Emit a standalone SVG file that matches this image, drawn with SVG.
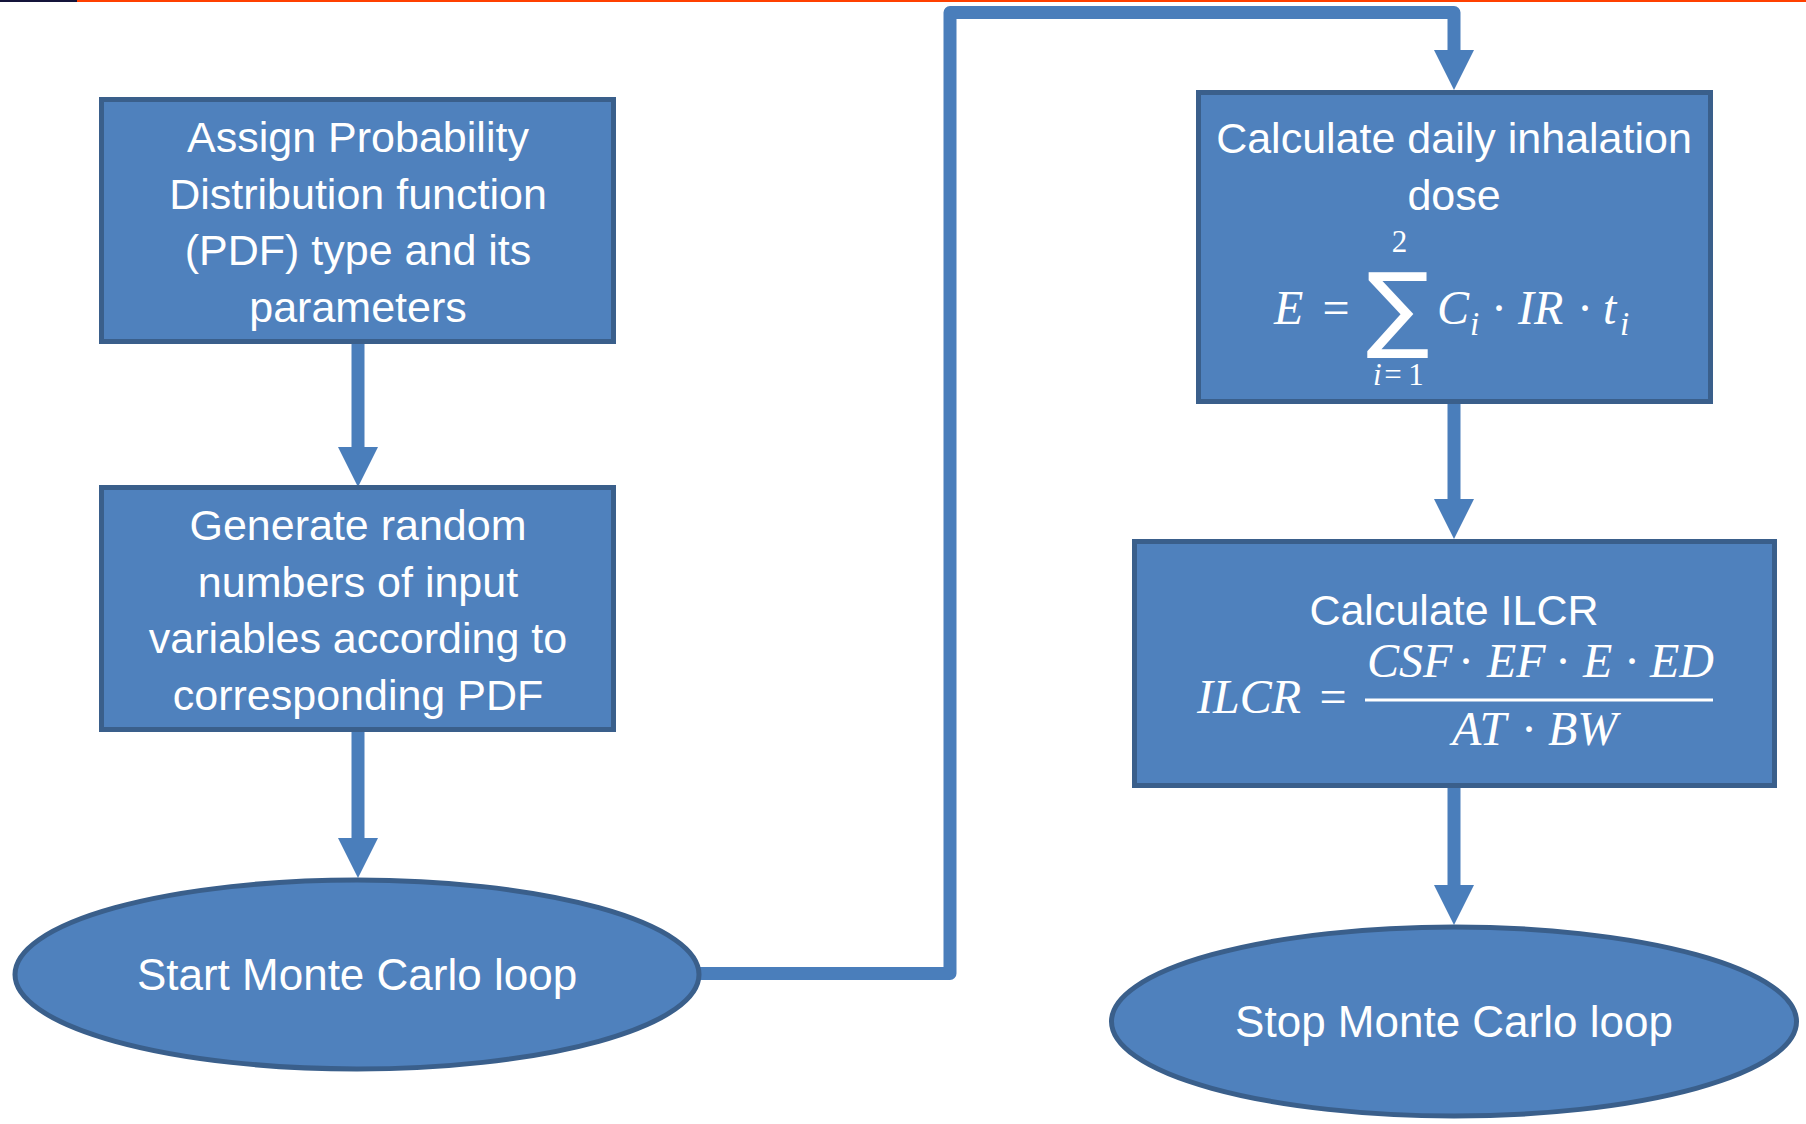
<svg xmlns="http://www.w3.org/2000/svg" width="1806" height="1124" viewBox="0 0 1806 1124">
  <style>
    .box { fill: #4F81BD; stroke: #3A5F8B; stroke-width: 5; }
    .label { font-family: "Liberation Sans", Arial, sans-serif; font-size: 43px; fill: #FFFFFF; text-anchor: middle; }
    .oval-label { font-size: 44px; }
    .math { font-family: "Liberation Serif", "Times New Roman", serif; font-style: italic; font-size: 48px; fill: #FFFFFF; }
    .op { font-family: "Liberation Serif", "Times New Roman", serif; font-style: normal; font-size: 48px; fill: #FFFFFF; text-anchor: middle; }
    .sub { font-size: 33px; }
    .lim { font-size: 31px; }
    .wire { fill: none; stroke: #4A7EBB; stroke-width: 13; stroke-linejoin: round; }
  </style>
  <defs>
    <marker id="head" markerUnits="userSpaceOnUse" viewBox="0 0 40 40" refX="0" refY="20" markerWidth="40" markerHeight="40" orient="auto">
      <polygon points="0,0 40,20 0,40" fill="#4A7EBB"/>
    </marker>
  </defs>

  <rect width="1806" height="1124" fill="#FFFFFF"/>

  <!-- page rule along the top edge -->
  <rect x="0" y="0" width="77" height="2" fill="#14143A"/>
  <rect x="77" y="0" width="1729" height="2" fill="#FF4000"/>

  <!-- connectors -->
  <g id="connectors">
    <path class="wire" d="M358 344 V447" marker-end="url(#head)"/>
    <path class="wire" d="M358 732 V838" marker-end="url(#head)"/>
    <path class="wire" d="M700 973.5 H950 V12.5 H1454 V50" marker-end="url(#head)"/>
    <path class="wire" d="M1454 404 V499" marker-end="url(#head)"/>
    <path class="wire" d="M1454 788 V885" marker-end="url(#head)"/>
  </g>

  <!-- step 1: distribution assignment -->
  <g id="assign-pdf">
    <rect class="box" x="101.5" y="99.5" width="512" height="242"/>
    <text class="label" x="358" y="152">Assign Probability</text>
    <text class="label" x="358" y="208.5">Distribution function</text>
    <text class="label" x="358" y="265">(PDF) type and its</text>
    <text class="label" x="358" y="321.5">parameters</text>
  </g>

  <!-- step 2: random number generation -->
  <g id="generate-random">
    <rect class="box" x="101.5" y="487.5" width="512" height="242"/>
    <text class="label" x="358" y="540">Generate random</text>
    <text class="label" x="358" y="596.5">numbers of input</text>
    <text class="label" x="358" y="653">variables according to</text>
    <text class="label" x="358" y="709.5">corresponding PDF</text>
  </g>

  <!-- loop start -->
  <g id="start-loop">
    <ellipse class="box" cx="357" cy="974.5" rx="342" ry="94.5"/>
    <text class="label oval-label" x="357" y="990">Start Monte Carlo loop</text>
  </g>

  <!-- step 3: daily inhalation dose -->
  <g id="inhalation-dose">
    <rect class="box" x="1198.5" y="92.5" width="512" height="309"/>
    <text class="label" x="1454" y="153">Calculate daily inhalation</text>
    <text class="label" x="1454" y="210">dose</text>
    <text class="math" x="1274" y="324">E</text>
    <text class="op" x="1336" y="324">=</text>
    <text class="op" x="1398" y="340" style="font-family:'DejaVu Sans',sans-serif;font-size:94px">∑</text>
    <text class="op lim" x="1399.5" y="252">2</text>
    <text class="math lim" x="1373" y="385">i</text>
    <text class="op lim" x="1393" y="385">=</text>
    <text class="op lim" x="1416" y="385">1</text>
    <text class="math" x="1437" y="324">C</text>
    <text class="math sub" x="1470" y="335">i</text>
    <text class="op" x="1499" y="324">·</text>
    <text class="math" x="1518" y="324">IR</text>
    <text class="op" x="1585" y="324">·</text>
    <text class="math" x="1603" y="324">t</text>
    <text class="math sub" x="1620" y="335">i</text>
  </g>

  <!-- step 4: lifetime cancer risk -->
  <g id="ilcr">
    <rect class="box" x="1134.5" y="541.5" width="640" height="244"/>
    <text class="label" x="1454" y="625">Calculate ILCR</text>
    <text class="math" x="1197" y="713">ILCR</text>
    <text class="op" x="1333" y="713">=</text>
    <line x1="1365" y1="700" x2="1713" y2="700" stroke="#FFFFFF" stroke-width="3"/>
    <text class="math" x="1367" y="677">CSF</text>
    <text class="op" x="1466" y="677">·</text>
    <text class="math" x="1487" y="677">EF</text>
    <text class="op" x="1563" y="677">·</text>
    <text class="math" x="1583" y="677">E</text>
    <text class="op" x="1632" y="677">·</text>
    <text class="math" x="1650" y="677">ED</text>
    <text class="math" x="1452" y="745">AT</text>
    <text class="op" x="1529" y="745">·</text>
    <text class="math" x="1548" y="745">BW</text>
  </g>

  <!-- loop end -->
  <g id="stop-loop">
    <ellipse class="box" cx="1454" cy="1021.5" rx="342.5" ry="94.5"/>
    <text class="label oval-label" x="1454" y="1037">Stop Monte Carlo loop</text>
  </g>
</svg>
